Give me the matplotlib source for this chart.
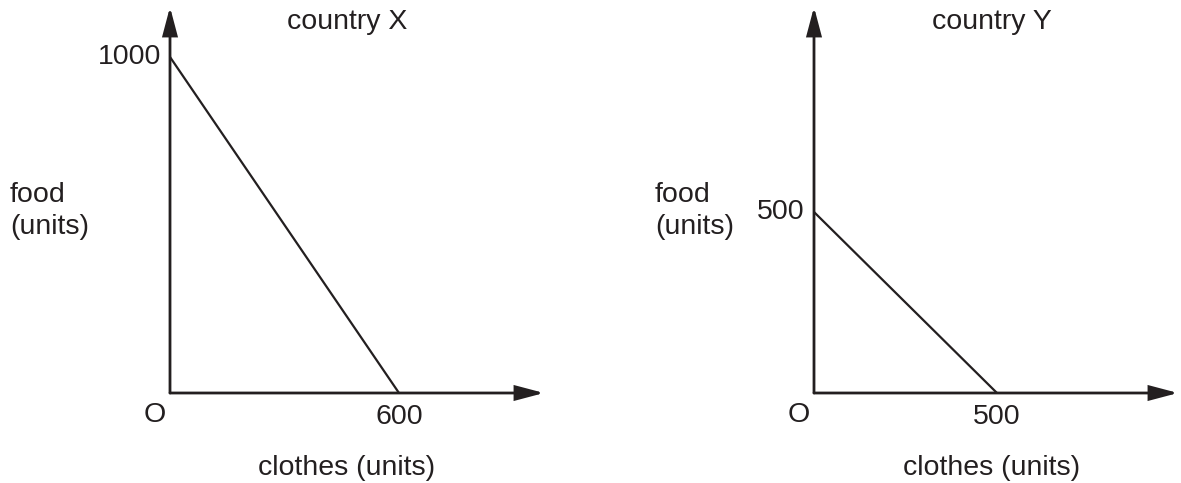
import matplotlib
matplotlib.use("Agg")
import matplotlib.pyplot as plt

# Data
countries = ["country X", "country Y"]
food_max = [1000, 500]      # y-intercepts (food units)
clothes_max = [600, 500]    # x-intercepts (clothes units)
x_label = "clothes (units)"
y_label = "food\n(units)"

W, H = 1181, 483
INK = "#231f20"
plt.rcParams["font.family"] = ["Liberation Sans", "DejaVu Sans"]
FS = 20.5

fig = plt.figure(figsize=(W / 100, H / 100), dpi=100)

def fx(px):
    return px / W

def fy(py):
    return 1 - py / H

# panel geometry in pixels: origin, pixel position of intercepts, arrow tips
panels = [
    dict(ox=170, oy=393, xint_px=399, yint_px=57, xtip=544, ytip=7,
         title_x=347, food_x=10, clothes_x=347),
    dict(ox=814, oy=393, xint_px=997, yint_px=212, xtip=1178, ytip=7,
         title_x=992, food_x=655, clothes_x=992),
]

for i, p in enumerate(panels):
    xm = clothes_max[i]
    ym = food_max[i]
    xlim_top = xm * (p["xtip"] - p["ox"]) / (p["xint_px"] - p["ox"])
    ylim_top = ym * (p["oy"] - p["ytip"]) / (p["oy"] - p["yint_px"])
    ax = fig.add_axes([fx(p["ox"]), fy(p["oy"]),
                       (p["xtip"] - p["ox"]) / W, (p["oy"] - p["ytip"]) / H])
    ax.set_xlim(0, xlim_top)
    ax.set_ylim(0, ylim_top)
    ax.axis("off")

    arrow = dict(arrowstyle="-|>,head_length=1.7,head_width=0.45",
                 mutation_scale=10, lw=2.0, color=INK,
                 shrinkA=0, shrinkB=0, joinstyle="miter")
    ax.annotate("", xy=(xlim_top, 0), xytext=(0, 0), arrowprops=arrow,
                annotation_clip=False)
    ax.annotate("", xy=(0, ylim_top), xytext=(0, 0), arrowprops=arrow,
                annotation_clip=False)

    # production possibility line
    ax.plot([0, xm], [ym, 0], color=INK, lw=1.6, clip_on=False,
            solid_capstyle="butt")

    # value labels
    ax.annotate(str(ym), xy=(0, ym), xytext=(-9, 0), textcoords="offset pixels",
                ha="right", va="center", fontsize=FS, color=INK)
    ax.annotate(str(xm), xy=(xm, 0), xytext=(0, -24), textcoords="offset pixels",
                ha="center", va="center", fontsize=FS, color=INK)
    ax.annotate("O", xy=(0, 0), xytext=(-15, -22), textcoords="offset pixels",
                ha="center", va="center", fontsize=FS, color=INK)

    fig.text(fx(p["title_x"]), fy(22), countries[i], ha="center", va="center",
             fontsize=FS, color=INK)
    fig.text(fx(p["clothes_x"]), fy(468), x_label, ha="center", va="center",
             fontsize=FS, color=INK)
    fig.text(fx(p["food_x"]), fy(211), y_label, ha="left", va="center",
             fontsize=FS, color=INK, linespacing=1.3)

fig.savefig("out.png", dpi=100, facecolor="white")
